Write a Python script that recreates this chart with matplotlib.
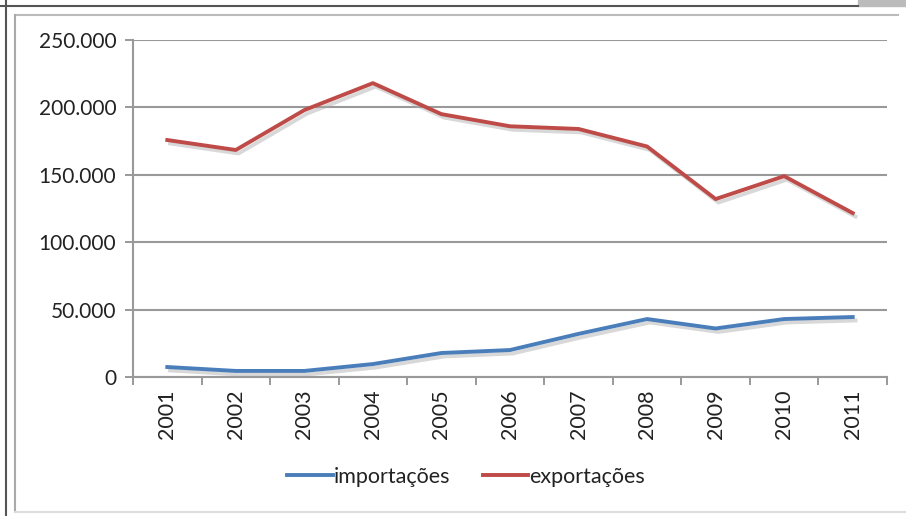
import matplotlib.pyplot as plt
import matplotlib.patheffects as pe
from matplotlib.ticker import FuncFormatter, FixedLocator
from matplotlib.lines import Line2D
import numpy as np

anos = ["2001", "2002", "2003", "2004", "2005", "2006", "2007", "2008", "2009", "2010", "2011"]
importacoes = [7400, 4500, 4500, 9600, 17800, 20000, 32000, 43000, 36000, 43000, 44500]
exportacoes = [175800, 168400, 198000, 218000, 195000, 186000, 184000, 171000, 132000, 149000, 121600]

cor_imp = '#4a7ebb'
cor_exp = '#be4b48'

plt.rcParams['font.family'] = ['Lato', 'DejaVu Sans']

fig = plt.figure(figsize=(9.06, 5.16), dpi=100)

# moldura externa
W, H = 906, 516
def fline(x0, y0, x1, y1, c, lw):
    fig.add_artist(Line2D([x0 / W, x1 / W], [1 - y0 / H, 1 - y1 / H], color=c, lw=lw,
                          transform=fig.transFigure))
fline(0, 6, 858, 6, '#555555', 1.5)
fline(15, 15, 898, 15, '#bbbbbb', 1.5)
fline(6, 0, 6, 516, '#555555', 1.5)
fline(15, 15, 15, 512, '#aaaaaa', 1.5)
fline(15, 512, 906, 512, '#dddddd', 1.5)
fig.add_artist(plt.Rectangle((858 / W, 1 - 6 / H), 48 / W, 6 / H, color='#bbbbbb',
                             transform=fig.transFigure))

ax = fig.add_axes([133 / W, 1 - 377 / H, 754 / W, 337 / H])
x = np.arange(len(anos))

sombra = [pe.SimpleLineShadow(offset=(2, -2.5), shadow_color='#aaaaaa', alpha=0.45), pe.Normal()]
ax.plot(x, importacoes, color=cor_imp, lw=2.8, path_effects=sombra)
ax.plot(x, exportacoes, color=cor_exp, lw=2.8, path_effects=sombra)

ax.set_xlim(-0.5, len(anos) - 0.5)
ax.set_ylim(0, 250000)
ax.set_yticks(np.arange(0, 250001, 50000))
ax.yaxis.set_major_formatter(FuncFormatter(lambda v, p: f"{int(v):,}".replace(',', '.')))
ax.xaxis.set_major_locator(FixedLocator(np.arange(-0.5, len(anos), 1)))
ax.xaxis.set_minor_locator(FixedLocator(x))
ax.set_xticklabels([])
ax.set_xticklabels(anos, minor=True, rotation=90)
ax.tick_params(axis='x', which='minor', length=0, pad=9, labelsize=15.5, labelcolor='#222222')
ax.tick_params(axis='x', which='major', length=6, color='#888888', width=1.2)
ax.tick_params(axis='y', length=6, color='#888888', width=1.2, labelsize=15,
               labelcolor='#222222', pad=6)

ax.grid(axis='y', color='#999999', lw=1.5)
ax.set_axisbelow(True)
for s in ['top', 'right']:
    ax.spines[s].set_visible(False)
for s in ['left', 'bottom']:
    ax.spines[s].set_color('#999999')
    ax.spines[s].set_linewidth(1.5)

handles = [Line2D([], [], color=cor_imp, lw=2.8), Line2D([], [], color=cor_exp, lw=2.8)]
ax.legend(handles, ['importações', 'exportações'], loc='center',
          bbox_to_anchor=(466 / W, 1 - 477 / H), bbox_transform=fig.transFigure,
          ncol=2, frameon=False, fontsize=15.5, handlelength=2.1, handletextpad=0.05,
          columnspacing=1.5, labelcolor='#222222')

fig.savefig('out.png', dpi=100)
